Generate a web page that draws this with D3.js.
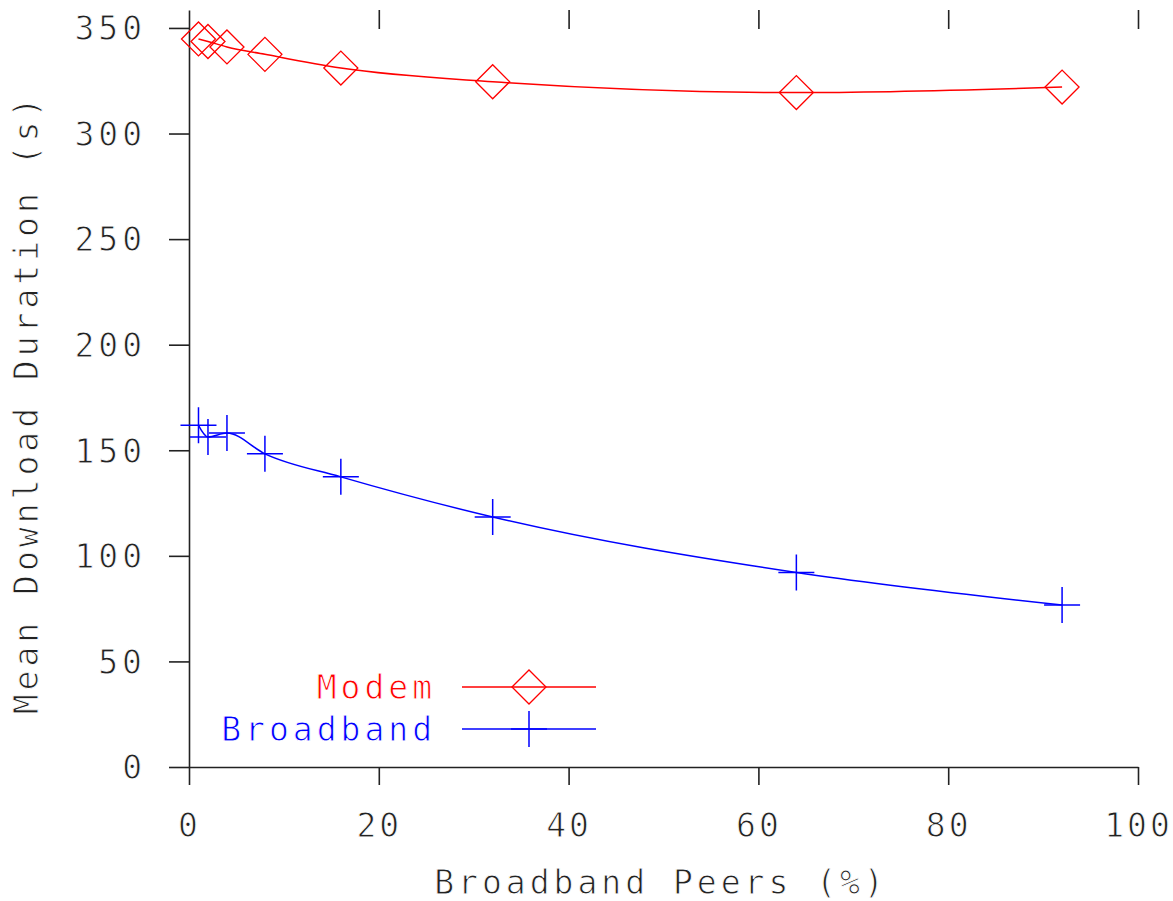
<!DOCTYPE html>
<html>
<head>
<meta charset="utf-8">
<script src="https://cdn.jsdelivr.net/npm/d3@7"></script>
<style>
  body { margin: 0; background: #fff; }
  text { font-family: "DejaVu Sans Mono", monospace; font-size: 33px; letter-spacing: 4px;
         stroke: #fff; stroke-width: 0.9px; paint-order: fill; }
</style>
</head>
<body>
<div id="chart"></div>
<script>
// data
const peers = [1, 2, 4, 8, 16, 32, 64, 92];
const modem = [344.8, 343.6, 341, 337.5, 331, 324.5, 319.4, 322];
const broadband = [161.8, 156.3, 158.2, 148.3, 137.4, 118.4, 92.1, 76.7];
const xTicks = [0, 20, 40, 60, 80, 100];
const yTicks = [0, 50, 100, 150, 200, 250, 300, 350];
const seriesNames = ["Modem", "Broadband"];

const width = 1173, height = 901;
const plotLeft = 189, plotRight = 1138, plotTop = 10, plotBottom = 767;

const svg = d3.select("#chart")
    .append("svg")
    .attr("width", width)
    .attr("height", height);

const x = d3.scaleLinear().domain([0, 100]).range([plotLeft, plotRight]);
const y = d3.scaleLinear().domain([0, 358.5]).range([plotBottom, plotTop]);

const color = d3.scaleOrdinal().domain(seriesNames).range(["#ff0000", "#0000ff"]);

// Y axis
const yAxis = svg.append("g")
    .attr("transform", `translate(${plotLeft},0)`)
    .call(d3.axisLeft(y).tickValues(yTicks).tickSize(20).tickSizeOuter(0).tickFormat(d3.format("d")));
yAxis.selectAll("text")
    .attr("x", -43)
    .attr("dy", "0.36em")
    .attr("fill", "#222");

// X axis
const xAxis = svg.append("g")
    .attr("transform", `translate(0,${plotBottom})`)
    .call(d3.axisBottom(x).tickValues(xTicks).tickSize(18).tickSizeOuter(0).tickFormat(d3.format("d")));
xAxis.selectAll("text")
    .attr("y", 70)
    .attr("dy", null)
    .style("letter-spacing", "3px")
    .attr("fill", "#222");

// top mirror ticks
const topAxis = svg.append("g")
    .attr("transform", `translate(0,${plotTop})`)
    .call(d3.axisBottom(x).tickValues(xTicks.slice(1)).tickSize(19).tickSizeOuter(0).tickFormat(""));
topAxis.select(".domain").remove();

svg.selectAll(".domain, .tick line")
    .attr("stroke", "#222")
    .attr("stroke-width", 1.6);

// axis titles
svg.append("text")
    .attr("text-anchor", "middle")
    .attr("x", 661)
    .attr("y", 894)
    .attr("fill", "#222")
    .text("Broadband Peers (%)");

svg.append("text")
    .attr("text-anchor", "middle")
    .attr("transform", "rotate(-90)")
    .attr("x", -404)
    .attr("y", 38)
    .attr("fill", "#222")
    .text("Mean Download Duration (s)");

// markers
const diamond = (g, cx, cy, c) => {
    const r = 17;
    g.append("path")
        .attr("d", `M${cx - r},${cy}L${cx},${cy - r}L${cx + r},${cy}L${cx},${cy + r}Z`)
        .attr("fill", "none")
        .attr("stroke", c)
        .attr("stroke-width", 1.3);
};
const cross = (g, cx, cy, c) => {
    const r = 18;
    g.append("path")
        .attr("d", `M${cx - r},${cy}H${cx + r}M${cx},${cy - r}V${cy + r}`)
        .attr("fill", "none")
        .attr("stroke", c)
        .attr("stroke-width", 1.5);
};

const line = d3.line()
    .x(d => x(d[0]))
    .y(d => y(d[1]))
    .curve(d3.curveMonotoneX);

const series = [
    { name: "Modem", values: modem, mark: diamond },
    { name: "Broadband", values: broadband, mark: cross }
];

series.forEach((s, i) => {
    const pts = peers.map((p, j) => [p, s.values[j]]);
    const g = svg.append("g");
    g.append("path")
        .datum(pts)
        .attr("d", line)
        .attr("fill", "none")
        .attr("stroke", color(s.name))
        .attr("stroke-width", 1.5);
    pts.forEach(d => s.mark(g, x(d[0]), y(d[1]), color(s.name)));

    // legend entry
    const ly = 687 + i * 42;
    svg.append("text")
        .attr("text-anchor", "end")
        .attr("x", 436)
        .attr("y", ly + 12)
        .attr("fill", color(s.name))
        .text(s.name);
    svg.append("line")
        .attr("x1", 462)
        .attr("x2", 596)
        .attr("y1", ly)
        .attr("y2", ly)
        .attr("stroke", color(s.name))
        .attr("stroke-width", 1.5);
    s.mark(svg, 529, ly, color(s.name));
});
</script>
</body>
</html>
